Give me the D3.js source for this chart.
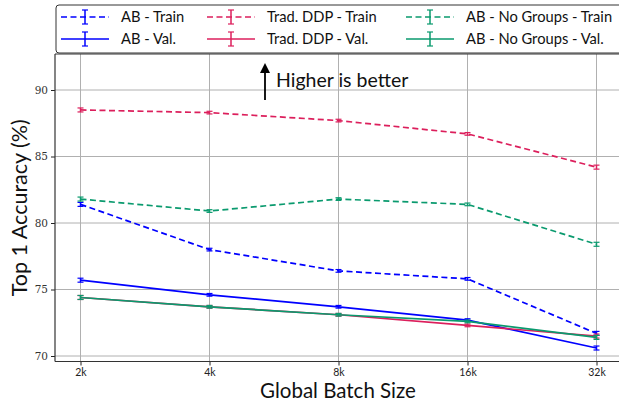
<html>
<head>
    <meta charset="utf-8">
    <title>Top 1 Accuracy</title>
    <script src="https://cdn.jsdelivr.net/npm/d3@7/dist/d3.min.js"></script>
    <style>
        body { margin: 0; background: #fff; }
        text { font-family: "Lato", "DejaVu Sans", sans-serif; }
    </style>
</head>
<body>
<div id="chart"></div>
<script>
    // batch sizes on the x axis (evenly spaced, log2)
    var batchSizes = ["2k", "4k", "8k", "16k", "32k"];
    var yTicks = [70, 75, 80, 85, 90];

    var abTrain = [81.4, 78.0, 76.4, 75.8, 71.7];
    var abVal = [75.7, 74.6, 73.7, 72.7, 70.6];
    var ddpTrain = [88.5, 88.3, 87.7, 86.7, 84.2];
    var ddpVal = [74.4, 73.7, 73.1, 72.3, 71.5];
    var noGrpTrain = [81.8, 80.9, 81.8, 81.4, 78.4];
    var noGrpVal = [74.4, 73.7, 73.1, 72.6, 71.4];
    // small std for error bars
    var errs = [0.15, 0.1, 0.1, 0.1, 0.15];

    var series = [
        { name: "AB - Train", values: abTrain, color: "#0000ff", dash: true },
        { name: "AB - Val.", values: abVal, color: "#0000ff", dash: false },
        { name: "Trad. DDP - Train", values: ddpTrain, color: "#dc1f5c", dash: true },
        { name: "Trad. DDP - Val.", values: ddpVal, color: "#dc1f5c", dash: false },
        { name: "AB - No Groups - Train", values: noGrpTrain, color: "#0a9a6e", dash: true },
        { name: "AB - No Groups - Val.", values: noGrpVal, color: "#0a9a6e", dash: false }
    ];

    var width = 619, height = 404;
    // note: "top" is reserved on window, so plot edges get a prefix
    var pLeft = 55, pRight = 640, pTop = 54, pBottom = 361.5;

    var svg = d3.select("#chart").append("svg")
        .attr("width", width)
        .attr("height", height);

    var x = d3.scalePoint().domain(batchSizes).range([80.5, 596.5]);
    var y = d3.scaleLinear().domain([70, 90]).range([356, 90]);

    // grid
    svg.append("g").selectAll("line").data(batchSizes).enter().append("line")
        .attr("x1", function (d) { return x(d); }).attr("x2", function (d) { return x(d); })
        .attr("y1", pTop).attr("y2", pBottom)
        .style("stroke", "#b0b0b0").style("stroke-width", 1);
    svg.append("g").selectAll("line").data(yTicks).enter().append("line")
        .attr("x1", pLeft).attr("x2", pRight)
        .attr("y1", function (d) { return y(d); }).attr("y2", function (d) { return y(d); })
        .style("stroke", "#b0b0b0").style("stroke-width", 1);

    // axes
    var xAxis = svg.append("g").attr("transform", "translate(0," + pBottom + ")")
        .call(d3.axisBottom(x).tickSize(4).tickPadding(3));
    xAxis.select(".domain").remove();
    xAxis.selectAll("text").style("font-size", "10.5px").style("font-family", "Lato, DejaVu Sans, sans-serif").attr("fill", "#222");
    xAxis.selectAll("line").style("stroke", "#222");

    var yAxis = svg.append("g").attr("transform", "translate(" + pLeft + ",0)")
        .call(d3.axisLeft(y).tickValues(yTicks).tickSize(4).tickPadding(3));
    yAxis.select(".domain").remove();
    yAxis.selectAll("text").style("font-size", "10.5px").style("font-family", "DejaVu Serif, Liberation Serif, serif").attr("fill", "#333");
    yAxis.selectAll("line").style("stroke", "#222");

    // spines
    svg.append("line").attr("x1", pLeft).attr("x2", pRight).attr("y1", pTop).attr("y2", pTop)
        .style("stroke", "#333").style("stroke-width", 1.2);
    svg.append("line").attr("x1", pLeft).attr("x2", pRight).attr("y1", pBottom).attr("y2", pBottom)
        .style("stroke", "#333").style("stroke-width", 1.2);
    svg.append("line").attr("x1", pLeft).attr("x2", pLeft).attr("y1", pTop).attr("y2", pBottom)
        .style("stroke", "#333").style("stroke-width", 1.2);

    // lines
    var line = d3.line()
        .x(function (d, i) { return x(batchSizes[i]); })
        .y(function (d) { return y(d); });

    series.forEach(function (s) {
        svg.append("path")
            .datum(s.values)
            .attr("d", line)
            .style("fill", "none")
            .style("stroke", s.color)
            .style("stroke-width", 1.7)
            .style("stroke-dasharray", s.dash ? "6,3.5" : null);

        // error bars
        var eb = svg.append("g").selectAll("g").data(s.values).enter().append("g");
        eb.append("line")
            .attr("x1", function (d, i) { return x(batchSizes[i]); })
            .attr("x2", function (d, i) { return x(batchSizes[i]); })
            .attr("y1", function (d, i) { return y(d - errs[i]); })
            .attr("y2", function (d, i) { return y(d + errs[i]); })
            .style("stroke", s.color).style("stroke-width", 1.5);
        [-1, 1].forEach(function (sgn) {
            eb.append("line")
                .attr("x1", function (d, i) { return x(batchSizes[i]) - 3; })
                .attr("x2", function (d, i) { return x(batchSizes[i]) + 3; })
                .attr("y1", function (d, i) { return y(d + sgn * errs[i]); })
                .attr("y2", function (d, i) { return y(d + sgn * errs[i]); })
                .style("stroke", s.color).style("stroke-width", 1.2);
        });
    });

    // annotation
    svg.append("line").attr("x1", 265).attr("x2", 265).attr("y1", 100).attr("y2", 70)
        .style("stroke", "#000").style("stroke-width", 1.8);
    svg.append("path").attr("d", "M265,63 L260,73 L270,73 Z").style("fill", "#000");
    svg.append("text").attr("x", 276).attr("y", 87)
        .style("font-size", "19.5px").attr("fill", "#111")
        .text("Higher is better");

    // axis labels
    svg.append("text")
        .attr("transform", "translate(27," + ((pTop + pBottom) / 2) + ") rotate(-90)")
        .attr("text-anchor", "middle")
        .style("font-size", "21.5px").attr("fill", "#111")
        .text("Top 1 Accuracy (%)");
    svg.append("text")
        .attr("x", 338).attr("y", 398)
        .attr("text-anchor", "middle")
        .style("font-size", "20.5px").attr("fill", "#111")
        .text("Global Batch Size");

    // legend
    var lg = svg.append("g");
    lg.append("rect").attr("x", 56).attr("y", 5).attr("width", 580).attr("height", 48)
        .attr("rx", 3).style("fill", "#fff").style("stroke", "#333").style("stroke-width", 1);
    var colX = [61, 207, 406];
    var rowY = [17, 39];
    series.forEach(function (s, k) {
        var cx = colX[Math.floor(k / 2)], cy = rowY[k % 2];
        var item = lg.append("g");
        item.append("line").attr("x1", cx).attr("x2", cx + 48).attr("y1", cy).attr("y2", cy)
            .style("stroke", s.color).style("stroke-width", 1.7)
            .style("stroke-dasharray", s.dash ? "6,3.5" : null);
        item.append("line").attr("x1", cx + 24).attr("x2", cx + 24).attr("y1", cy - 7).attr("y2", cy + 7)
            .style("stroke", s.color).style("stroke-width", 1.5);
        item.append("line").attr("x1", cx + 21).attr("x2", cx + 27).attr("y1", cy - 7).attr("y2", cy - 7)
            .style("stroke", s.color).style("stroke-width", 1.2);
        item.append("line").attr("x1", cx + 21).attr("x2", cx + 27).attr("y1", cy + 7).attr("y2", cy + 7)
            .style("stroke", s.color).style("stroke-width", 1.2);
        item.append("text").attr("x", cx + 60).attr("y", cy + 5)
            .style("font-size", "14.7px").attr("fill", "#111")
            .text(s.name);
    });
</script>
</body>
</html>
